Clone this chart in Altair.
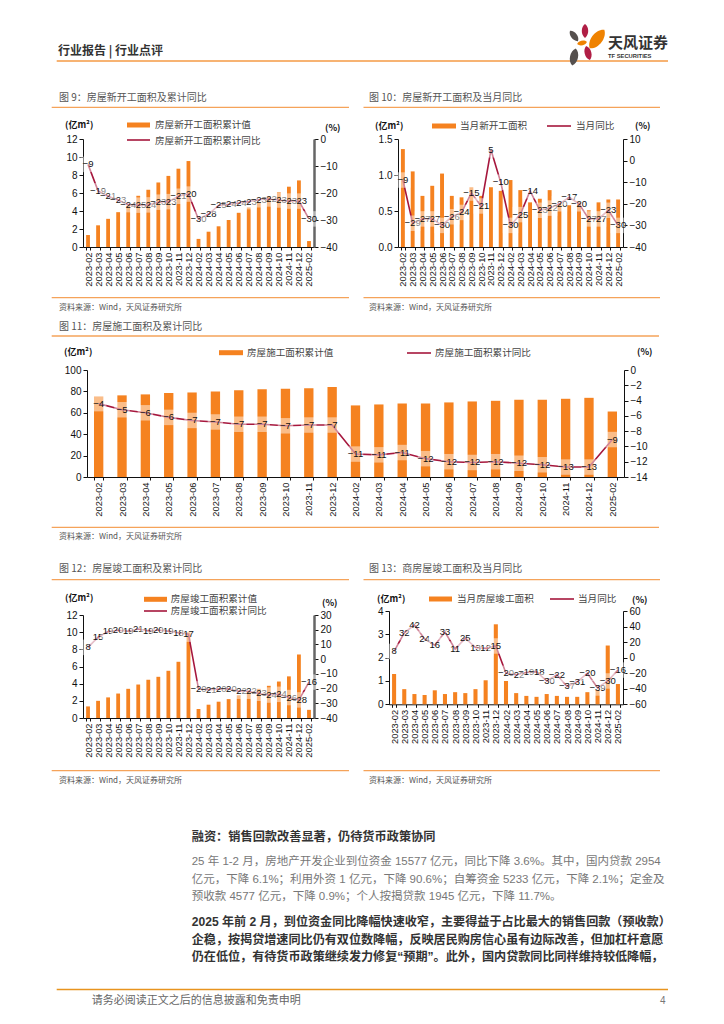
import altair as alt
import pandas as pd

months = ["2023-02","2023-03","2023-04","2023-05","2023-06","2023-07","2023-08","2023-09","2023-10","2023-11","2023-12",
          "2024-02","2024-03","2024-04","2024-05","2024-06","2024-07","2024-08","2024-09","2024-10","2024-11","2024-12","2025-02"]

bars9 = [1.33,2.41,3.13,3.87,4.6,5.69,6.35,7.17,7.9,8.7,9.55,0.9,1.7,2.3,3.0,3.8,4.4,5.0,5.6,6.1,6.7,7.4,0.66]
line9 = [-9.4,-19.2,-21.2,-22.6,-24.3,-24.5,-24.4,-23.4,-23.2,-21.2,-20.4,-29.7,-27.8,-24.6,-24.2,-23.7,-23.2,-22.5,-22.2,-22.6,-23.0,-23.0,-29.6]

bars10 = [1.36,1.05,0.71,0.85,1.02,0.71,0.69,0.83,0.71,0.83,0.78,0.93,0.79,0.62,0.67,0.79,0.6,0.58,0.62,0.51,0.62,0.66,0.66]
line10 = [-9,-29,-27,-27,-30,-26,-24,-15,-21,5,-10,-30,-25,-14,-23,-22,-20,-17,-20,-27,-27,-23,-30]

bars11 = [75.3,76.3,77.2,78.4,79.0,80.0,81.0,81.9,82.5,83.0,84.0,66.9,67.8,68.7,68.7,69.7,70.6,71.2,72.2,72.2,73.1,74.0,61.2]
line11 = [-4.4,-5.2,-5.6,-6.2,-6.6,-6.8,-7.1,-7.1,-7.3,-7.2,-7.2,-11.0,-11.1,-10.8,-11.6,-12.0,-12.1,-12.0,-12.2,-12.4,-12.7,-12.7,-9.1]

bars12 = [1.35,2.0,2.4,2.85,3.4,3.9,4.45,4.8,5.5,6.55,9.98,1.05,1.55,1.9,2.2,2.65,3.05,3.4,3.75,4.25,4.85,7.4,0.95]
line12 = [8.0,14.9,18.8,19.6,19.0,20.5,19.2,19.8,19.0,17.9,17.0,-20.2,-20.7,-20.4,-20.1,-21.8,-21.8,-23.2,-24.4,-23.9,-26.1,-27.7,-15.6]

bars13 = [1.3,0.65,0.44,0.4,0.6,0.44,0.52,0.48,0.65,1.03,3.43,1.0,0.48,0.36,0.32,0.44,0.36,0.32,0.32,0.52,0.62,2.52,0.87]
line13 = [8,32,42,24,16,33,11,25,13,12,15,-20,-22,-19,-18,-30,-22,-37,-31,-20,-39,-30,-16]

titles = ["图 9：房屋新开工面积及累计同比","图 10：房屋新开工面积及当月同比","图 11：房屋施工面积及累计同比",
          "图 12：房屋竣工面积及累计同比","图 13：商房屋竣工面积及当月同比"]
source = "资料来源：Wind，天风证券研究所"
para1 = ["25 年 1-2 月，房地产开发企业到位资金 15577 亿元，同比下降 3.6%。其中，国内贷款 2954",
         "亿元，下降 6.1%；利用外资 1 亿元，下降 90.6%；自筹资金 5233 亿元，下降 2.1%；定金及",
         "预收款 4577 亿元，下降 0.9%；个人按揭贷款 1945 亿元，下降 11.7%。"]
para2 = ["2025 年前 2 月，到位资金同比降幅快速收窄，主要得益于占比最大的销售回款（预收款）",
         "企稳，按揭贷增速同比仍有双位数降幅，反映居民购房信心虽有边际改善，但加杠杆意愿",
         "仍在低位，有待货币政策继续发力修复“预期”。此外，国内贷款同比同样维持较低降幅，"]

ORANGE = "#F58220"
CRIMSON = "#A6173D"
RULE = "#F5A35A"
FONT = "Liberation Sans, Noto Sans CJK SC"
CJK = "Noto Sans CJK SC"
ONE = alt.Data(values=[{"a": 1}])
P = 8  # page margin


def spacer(w, h):
    return alt.Chart(ONE).mark_point(opacity=0, size=1).encode(x=alt.value(5), y=alt.value(5)).properties(width=w, height=h)


def place(chart, x, y):
    col = alt.vconcat(spacer(1, y - P), chart, spacing=0, bounds="flush")
    return alt.hconcat(spacer(x - P, 1), col, spacing=0, bounds="flush")


def panel(bars, line, w, h, ldom, rdom, lticks, rticks, ratio, lfmt="d", thick=False):
    df = pd.DataFrame({"month": months, "bar": bars, "v": line})
    gap = 1 - ratio
    xs = alt.Scale(domain=months, paddingInner=gap, paddingOuter=gap / 2)
    xaxis = alt.Axis(title=None, labelAngle=270, labelFontSize=9.3, labelColor="#111", tickBand="extent",
                     tickSize=3, tickColor="#111", domainColor="#111", labelPadding=2, grid=False,
                     labelOverlap=False, labelFont=FONT)
    x = alt.X("month:N", sort=months, scale=xs, axis=xaxis)
    lax = alt.Axis(title=None, orient="left", values=lticks, format=lfmt, grid=False, tickSize=4, tickColor="#111",
                   domainColor="#111", labelFontSize=10, labelColor="#111", labelPadding=2, labelFont=FONT)
    rax = alt.Axis(title=None, orient="right", values=rticks, format="d", grid=False, tickSize=4, tickColor="#111",
                   domainColor="#666" if thick else "#111", domainWidth=2.5 if thick else 1,
                   labelFontSize=10, labelColor="#111", labelPadding=2, labelFont=FONT)
    ry = alt.Scale(domain=rdom, nice=False, zero=False)
    layers = [
        alt.Chart(df).mark_bar(color=ORANGE).encode(
            x=x, y=alt.Y("bar:Q", scale=alt.Scale(domain=ldom, nice=False), axis=lax)),
        alt.Chart(df).mark_line(color=CRIMSON, strokeWidth=1.6).encode(
            x=x, y=alt.Y("v:Q", scale=ry, axis=rax)),
    ]
    for m in months:
        d = alt.Chart(df).transform_filter(alt.datum.month == m)
        y = alt.Y("v:Q", scale=ry, axis=None)
        layers.append(d.mark_point(shape="square", filled=True, color="white", opacity=0.47, size=240,
                                   strokeWidth=0).encode(x=x, y=y))
        layers.append(d.mark_text(fontSize=9.5, color="#111", font=FONT).encode(
            x=x, y=y, text=alt.Text("v:Q", format=".0f")))
    return alt.layer(*layers).resolve_scale(y="independent").properties(width=w, height=h)


def txt(s, x, y, size=10, color="#555", weight="normal", align="left", font=CJK):
    return alt.Chart(ONE).mark_text(text=s, fontSize=size, color=color, fontWeight=weight, align=align,
                                    baseline="middle", font=font).encode(x=alt.value(x - P), y=alt.value(y - P))


def hrule(x1, x2, y, color=RULE, w=1.3):
    return alt.Chart(ONE).mark_rule(color=color, strokeWidth=w).encode(
        x=alt.value(x1 - P), x2=alt.value(x2 - P), y=alt.value(y - P))


def petal(x, y, size, angle, color):
    leaf = "M0,-1C0.62,-0.6 0.62,0.6 0,1C-0.62,0.6 -0.62,-0.6 0,-1Z"
    return alt.Chart(ONE).mark_point(shape=leaf, filled=True, color=color, size=size, angle=angle, opacity=1,
                                     strokeWidth=0).encode(x=alt.value(x - P), y=alt.value(y - P))


deco = []
# header
deco += [txt("行业报告 | 行业点评", 58, 51, 12, "#333", "bold"), hrule(56.7, 668, 61, "#F59A45", 1.6)]
deco += [petal(585, 31, 190, 0, "#B01E45"), petal(597, 39, 560, 38, "#EF8200"), petal(574, 36, 170, 322, "#55504E"),
         petal(582, 43, 100, 78, "#EF8200"), petal(574, 57, 300, 12, "#55504E"), petal(588, 53, 210, 345, "#B01E45")]
deco += [txt("天风证券", 608, 43, 15, "#333", "bold"), txt("TF SECURITIES", 608, 56, 5.8, "#333", "bold", font=FONT)]

# panel frames: titles, rules, sources
frames = [(titles[0], 59, 97.5, 51.7, 349, 107.3, 297.7, 308),
          (titles[1], 369, 97.5, 363.5, 660, 107.3, 297.7, 308),
          (titles[2], 59, 327, 51.7, 659, 336, 527.3, 536.7),
          (titles[3], 59, 569.3, 51.7, 349, 579.7, 770.7, 780.7),
          (titles[4], 369, 569.3, 363.5, 660, 579.7, 770.7, 780.7)]
for t, tx, ty, r1, r2, ry1, ry2, sy in frames:
    deco += [txt(t, tx, ty, 10, "#555"), hrule(r1, r2, ry1), hrule(r1, r2, ry2), txt(source, tx, sy, 8, "#555")]

# legends and unit labels
def barkey(x1, x2, y):
    return hrule(x1, x2, y, ORANGE, 5)

def linekey(x1, x2, y):
    return hrule(x1, x2, y, CRIMSON, 1.6)

LG = "#444"
U = 9
deco += [txt("(亿m²)", 65, 125, U, "#111", "bold"), txt("(%)", 325, 128, U, "#111", "bold"),
         barkey(127, 150, 125), txt("房屋新开工面积累计值", 155, 125, 9.6, LG),
         linekey(127, 150, 140), txt("房屋新开工面积累计同比", 155, 140.7, 9.6, LG)]
deco += [txt("(亿m²)", 375, 126, U, "#111", "bold"), txt("(%)", 635, 126, U, "#111", "bold"),
         barkey(432, 456, 126), txt("当月新开工面积", 460, 126, 9.6, LG),
         linekey(547, 571, 126), txt("当月同比", 576, 126, 9.6, LG)]
deco += [txt("(亿m²)", 64, 352, U, "#111", "bold"), txt("(%)", 637, 352, U, "#111", "bold"),
         barkey(219, 243, 352.7), txt("房屋施工面积累计值", 247, 352.7, 9.6, LG),
         linekey(407, 431, 353), txt("房屋施工面积累计同比", 435, 353, 9.6, LG)]
deco += [txt("(亿m²)", 65, 597.7, U, "#111", "bold"), txt("(%)", 322, 602.7, U, "#111", "bold"),
         barkey(144, 167, 599.3), txt("房屋竣工面积累计值", 170.7, 599.3, 9.6, LG),
         linekey(144, 167, 611), txt("房屋竣工面积累计同比", 170.7, 611, 9.6, LG)]
deco += [txt("(亿m²)", 377, 599, U, "#111", "bold"), txt("(%)", 632, 600, U, "#111", "bold"),
         barkey(429, 452, 599), txt("当月房屋竣工面积", 457, 599, 9.6, LG),
         linekey(550, 574, 599), txt("当月同比", 578, 599, 9.6, LG)]

# body text and footer
deco.append(txt("融资：销售回款改善显著，仍待货币政策协同", 191.7, 836.7, 12.2, "#333", "bold"))
for s, y in zip(para1, [862.3, 879.7, 897]):
    deco.append(txt(s, 191.7, y, 11.5, "#777", font=FONT))
for s, y in zip(para2, [922.3, 940, 956.7]):
    deco.append(txt(s, 191.7, y, 12.1, "#333", "bold", font=FONT))
deco += [hrule(56.7, 668, 989.5, "#E8941E", 1.6), txt("请务必阅读正文之后的信息披露和免责申明", 91.7, 1000.5, 11, "#666"),
         txt("4", 660, 1000.5, 10, "#777", font=FONT)]

page = alt.layer(*deco).properties(width=708, height=1)

c9 = panel(bars9, line9, 231, 108, [0, 12], [-40, 0], [0, 2, 4, 6, 8, 10, 12], [0, -10, -20, -30, -40], 0.38, thick=True)
c10 = panel(bars10, line10, 225, 108, [0, 1.5], [-40, 10], [0, 0.5, 1, 1.5], [10, 0, -10, -20, -30, -40], 0.4, lfmt=".1f")
c11 = panel(bars11, line11, 537, 107, [0, 100], [-14, 0], [0, 20, 40, 60, 80, 100], [0, -2, -4, -6, -8, -10, -12, -14], 0.4)
c12 = panel(bars12, line12, 231, 103, [0, 12], [-40, 30], [0, 2, 4, 6, 8, 10, 12], [30, 20, 10, 0, -10, -20, -30, -40], 0.38, thick=True)
c13 = panel(bars13, line13, 234, 93.3, [0, 4], [-60, 60], [0, 1, 2, 3, 4], [60, 40, 20, 0, -20, -40, -60], 0.4)

chart = alt.vconcat(
    place(c9, 82.5, 138.5),
    place(c10, 398, 138.5),
    place(c11, 86.7, 369.7),
    place(c12, 82.3, 614.3),
    place(c13, 389, 611),
    page,
    spacing=0, bounds="flush", padding=0, background="white",
).configure_view(stroke=None)

chart.save("out.html", embed_options={"renderer": "svg", "actions": False})
